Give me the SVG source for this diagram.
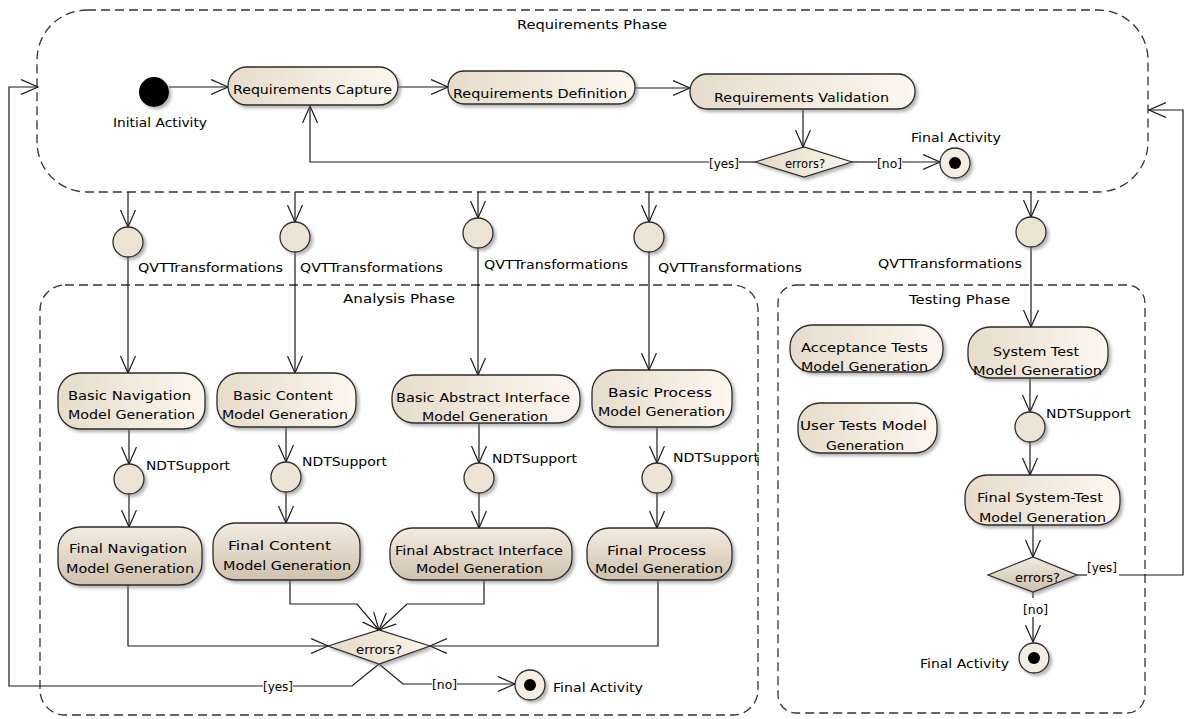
<svg xmlns="http://www.w3.org/2000/svg" width="1192" height="719" viewBox="0 0 1192 719">
<defs>
<linearGradient id="gB" x1="0" y1="0" x2="1" y2="0"><stop offset="0" stop-color="#e7dccb"/><stop offset="1" stop-color="#fcf7ef"/></linearGradient>
<linearGradient id="gF" x1="0" y1="0" x2="0" y2="1"><stop offset="0" stop-color="#f3ece2"/><stop offset="1" stop-color="#cfc1ad"/></linearGradient>
<linearGradient id="gD" x1="0" y1="0" x2="1" y2="0"><stop offset="0" stop-color="#e6dac8"/><stop offset="1" stop-color="#fbf4e9"/></linearGradient>
<linearGradient id="gDF" x1="0" y1="0" x2="0" y2="1"><stop offset="0" stop-color="#f3ece2"/><stop offset="1" stop-color="#cdbfab"/></linearGradient>
<filter id="sh" x="-20%" y="-20%" width="140%" height="150%"><feDropShadow dx="2.5" dy="2.5" stdDeviation="1.4" flood-color="#777" flood-opacity="0.55"/></filter>
<marker id="ah" markerUnits="userSpaceOnUse" markerWidth="20" markerHeight="18" refX="17" refY="8" orient="auto"><path d="M0,0.5 L17,8 L0,15.5" fill="none" stroke="#1a1a1a" stroke-width="1.2"/></marker>
</defs>
<style>
.cont{fill:none;stroke:#333;stroke-width:1.3;stroke-dasharray:9 5}
.act{stroke:#2a2a2a;stroke-width:1.3;filter:url(#sh)}
.b{fill:url(#gB)}
.f{fill:url(#gF)}
.pt{fill:#ece3d5;stroke:#2a2a2a;stroke-width:1.3;filter:url(#sh)}
.dm{fill:url(#gD);stroke:#2a2a2a;stroke-width:1.2;filter:url(#sh)}
.dmf{fill:url(#gDF);stroke:#2a2a2a;stroke-width:1.2;filter:url(#sh)}
.fa{fill:#f3ede3;stroke:#2a2a2a;stroke-width:1.3;filter:url(#sh)}
#connectors path{fill:none;stroke:#1a1a1a;stroke-width:1.2}
.arr{marker-end:url(#ah)}
text{font-family:"DejaVu Sans","Liberation Sans",sans-serif;font-size:13px;fill:#000;dominant-baseline:central}
</style>
<rect width="1192" height="719" fill="#fff"/>

<g id="requirements-phase">
<rect class="cont" x="37" y="10" width="1111" height="182" rx="50" ry="50"/>
<text x="517" y="24" textLength="150" lengthAdjust="spacingAndGlyphs">Requirements Phase</text>
</g>
<g id="analysis-phase">
<rect class="cont" x="40" y="285" width="718" height="430" rx="25" ry="25"/>
<text x="343" y="298" textLength="112" lengthAdjust="spacingAndGlyphs">Analysis Phase</text>
</g>
<g id="testing-phase">
<rect class="cont" x="778" y="285" width="367" height="428" rx="18" ry="18"/>
<text x="909" y="299" textLength="101" lengthAdjust="spacingAndGlyphs">Testing Phase</text>
</g>

<g id="connectors">
<path class="arr" d="M169,87 H228"/>
<path class="arr" d="M398,87 H448"/>
<path class="arr" d="M635,88 H690"/>
<path class="arr" d="M803,109 V147"/>
<path d="M755,162 H739"/>
<path class="arr" d="M709,162 H310 V106"/>
<path d="M852,162 H877"/>
<path class="arr" d="M902,162 H940"/>
<path class="arr" d="M263,686 H9 V87 H38"/>
<path d="M379,664 L352,686 H293"/>
<path d="M1077,575 H1087"/>
<path class="arr" d="M1119,575 H1183 V110 H1149"/>
<path class="arr" d="M128,192 V227"/>
<path class="arr" d="M128,257 V373"/>
<path class="arr" d="M295,192 V222"/>
<path class="arr" d="M295,252 V373"/>
<path class="arr" d="M478,192 V218"/>
<path class="arr" d="M478,248 V375"/>
<path class="arr" d="M649,192 V222"/>
<path class="arr" d="M649,252 V370"/>
<path class="arr" d="M1031,192 V217"/>
<path class="arr" d="M1031,247 V327"/>
<path class="arr" d="M129,429 V464"/>
<path class="arr" d="M129,494 V527"/>
<path class="arr" d="M286,427 V462"/>
<path class="arr" d="M286,492 V523"/>
<path class="arr" d="M479,423 V463"/>
<path class="arr" d="M479,493 V528"/>
<path class="arr" d="M657,427 V463"/>
<path class="arr" d="M657,493 V528"/>
<path class="arr" d="M1030,378 V412"/>
<path class="arr" d="M1030,442 V475"/>
<path class="arr" d="M1033,525 V557"/>
<path class="arr" d="M128,585 V646 H328"/>
<path class="arr" d="M290,580 V604 H357 L379,630"/>
<path class="arr" d="M484,580 V604 H407 L379,630"/>
<path class="arr" d="M658,580 V646 H430"/>
<path d="M379,664 L403,684 H432"/>
<path class="arr" d="M457,684 H515"/>
<path d="M1033,592 V598"/>
<path class="arr" d="M1033,617 V642"/>
<text x="709" y="163" textLength="30" lengthAdjust="spacingAndGlyphs">[yes]</text>
<text x="877" y="163" textLength="25" lengthAdjust="spacingAndGlyphs">[no]</text>
<text x="263" y="686" textLength="30" lengthAdjust="spacingAndGlyphs">[yes]</text>
<text x="432" y="684" textLength="25" lengthAdjust="spacingAndGlyphs">[no]</text>
<text x="1087" y="567" textLength="30" lengthAdjust="spacingAndGlyphs">[yes]</text>
<text x="1023" y="609" textLength="25" lengthAdjust="spacingAndGlyphs">[no]</text>
<text x="138" y="267" textLength="145" lengthAdjust="spacingAndGlyphs">QVTTransformations</text>
<text x="300" y="267" textLength="143" lengthAdjust="spacingAndGlyphs">QVTTransformations</text>
<text x="484" y="264" textLength="144" lengthAdjust="spacingAndGlyphs">QVTTransformations</text>
<text x="658" y="267" textLength="144" lengthAdjust="spacingAndGlyphs">QVTTransformations</text>
<text x="878" y="263" textLength="144" lengthAdjust="spacingAndGlyphs">QVTTransformations</text>
<text x="146" y="465" textLength="84" lengthAdjust="spacingAndGlyphs">NDTSupport</text>
<text x="302" y="461" textLength="85" lengthAdjust="spacingAndGlyphs">NDTSupport</text>
<text x="492" y="458" textLength="85" lengthAdjust="spacingAndGlyphs">NDTSupport</text>
<text x="673" y="457" textLength="86" lengthAdjust="spacingAndGlyphs">NDTSupport</text>
<text x="1046" y="413" textLength="85" lengthAdjust="spacingAndGlyphs">NDTSupport</text>
</g>

<g id="initial-activity">
<circle cx="154" cy="92" r="15" fill="#000" filter="url(#sh)"/>
<text x="113" y="122" textLength="94" lengthAdjust="spacingAndGlyphs">Initial Activity</text>
</g>
<g id="requirements-capture">
<rect class="act b" x="228" y="67" width="170" height="38" rx="19"/>
<text x="233" y="89" textLength="159" lengthAdjust="spacingAndGlyphs">Requirements Capture</text>
</g>
<g id="requirements-definition">
<rect class="act b" x="448" y="71" width="187" height="33" rx="16"/>
<text x="453" y="93" textLength="174" lengthAdjust="spacingAndGlyphs">Requirements Definition</text>
</g>
<g id="requirements-validation">
<rect class="act b" x="690" y="74" width="225" height="35" rx="17"/>
<text x="714" y="97" textLength="175" lengthAdjust="spacingAndGlyphs">Requirements Validation</text>
</g>
<g id="req-decision">
<polygon class="dm" points="755,162 804,147 852,162 804,177"/>
<text x="785" y="163" textLength="40" lengthAdjust="spacingAndGlyphs">errors?</text>
</g>
<g id="req-final">
<circle class="fa" cx="955" cy="163" r="15"/>
<circle cx="955" cy="163" r="6" fill="#000"/>
<text x="911" y="137" textLength="90" lengthAdjust="spacingAndGlyphs">Final Activity</text>
</g>

<g id="fork-1"><circle class="pt" cx="128" cy="242" r="15"/></g>
<g id="fork-2"><circle class="pt" cx="295" cy="237" r="15"/></g>
<g id="fork-3"><circle class="pt" cx="478" cy="233" r="15"/></g>
<g id="fork-4"><circle class="pt" cx="649" cy="237" r="15"/></g>
<g id="fork-5"><circle class="pt" cx="1031" cy="232" r="15"/></g>

<g id="basic-navigation">
<rect class="act b" x="58" y="373" width="147" height="56" rx="22"/>
<text x="68" y="395" textLength="123" lengthAdjust="spacingAndGlyphs">Basic Navigation</text>
<text x="68" y="414" textLength="127" lengthAdjust="spacingAndGlyphs">Model Generation</text>
</g>
<g id="basic-content">
<rect class="act b" x="217" y="373" width="139" height="54" rx="22"/>
<text x="233" y="395" textLength="100" lengthAdjust="spacingAndGlyphs">Basic Content</text>
<text x="222" y="414" textLength="126" lengthAdjust="spacingAndGlyphs">Model Generation</text>
</g>
<g id="basic-abstract">
<rect class="act b" x="392" y="375" width="188" height="48" rx="22"/>
<text x="396" y="397" textLength="174" lengthAdjust="spacingAndGlyphs">Basic Abstract Interface</text>
<text x="422" y="416" textLength="126" lengthAdjust="spacingAndGlyphs">Model Generation</text>
</g>
<g id="basic-process">
<rect class="act b" x="592" y="370" width="140" height="57" rx="22"/>
<text x="608" y="392" textLength="104" lengthAdjust="spacingAndGlyphs">Basic Process</text>
<text x="598" y="411" textLength="127" lengthAdjust="spacingAndGlyphs">Model Generation</text>
</g>

<g id="ndt-1"><circle class="pt" cx="129" cy="479" r="15"/></g>
<g id="ndt-2"><circle class="pt" cx="286" cy="477" r="15"/></g>
<g id="ndt-3"><circle class="pt" cx="479" cy="478" r="15"/></g>
<g id="ndt-4"><circle class="pt" cx="657" cy="478" r="15"/></g>

<g id="final-navigation">
<rect class="act f" x="58" y="527" width="144" height="58" rx="22"/>
<text x="69" y="548" textLength="118" lengthAdjust="spacingAndGlyphs">Final Navigation</text>
<text x="66" y="568" textLength="128" lengthAdjust="spacingAndGlyphs">Model Generation</text>
</g>
<g id="final-content">
<rect class="act f" x="213" y="523" width="147" height="57" rx="22"/>
<text x="228" y="545" textLength="103" lengthAdjust="spacingAndGlyphs">Final Content</text>
<text x="223" y="565" textLength="128" lengthAdjust="spacingAndGlyphs">Model Generation</text>
</g>
<g id="final-abstract">
<rect class="act f" x="390" y="528" width="182" height="52" rx="22"/>
<text x="395" y="550" textLength="168" lengthAdjust="spacingAndGlyphs">Final Abstract Interface</text>
<text x="416" y="568" textLength="127" lengthAdjust="spacingAndGlyphs">Model Generation</text>
</g>
<g id="final-process">
<rect class="act f" x="587" y="528" width="145" height="52" rx="22"/>
<text x="607" y="550" textLength="99" lengthAdjust="spacingAndGlyphs">Final Process</text>
<text x="595" y="568" textLength="128" lengthAdjust="spacingAndGlyphs">Model Generation</text>
</g>

<g id="analysis-decision">
<polygon class="dm" points="328,646 379,630 430,646 379,664"/>
<text x="356" y="649" textLength="46" lengthAdjust="spacingAndGlyphs">errors?</text>
</g>
<g id="analysis-final">
<circle class="fa" cx="530" cy="685" r="15"/>
<circle cx="530" cy="685" r="6" fill="#000"/>
<text x="553" y="687" textLength="90" lengthAdjust="spacingAndGlyphs">Final Activity</text>
</g>

<g id="acceptance-tests">
<rect class="act b" x="790" y="325" width="153" height="47" rx="22"/>
<text x="801" y="347" textLength="127" lengthAdjust="spacingAndGlyphs">Acceptance Tests</text>
<text x="801" y="366" textLength="127" lengthAdjust="spacingAndGlyphs">Model Generation</text>
</g>
<g id="system-test">
<rect class="act b" x="968" y="327" width="140" height="51" rx="22"/>
<text x="993" y="351" textLength="86" lengthAdjust="spacingAndGlyphs">System Test</text>
<text x="973" y="370" textLength="129" lengthAdjust="spacingAndGlyphs">Model Generation</text>
</g>
<g id="user-tests">
<rect class="act b" x="798" y="403" width="139" height="50" rx="22"/>
<text x="800" y="425" textLength="127" lengthAdjust="spacingAndGlyphs">User Tests Model</text>
<text x="826" y="445" textLength="78" lengthAdjust="spacingAndGlyphs">Generation</text>
</g>
<g id="ndt-5"><circle class="pt" cx="1030" cy="427" r="15"/></g>
<g id="final-system-test">
<rect class="act b" x="965" y="475" width="155" height="50" rx="22"/>
<text x="977" y="497" textLength="126" lengthAdjust="spacingAndGlyphs">Final System-Test</text>
<text x="979" y="517" textLength="127" lengthAdjust="spacingAndGlyphs">Model Generation</text>
</g>
<g id="testing-decision">
<polygon class="dmf" points="988,575 1033,557 1077,575 1033,592"/>
<text x="1015" y="577" textLength="45" lengthAdjust="spacingAndGlyphs">errors?</text>
</g>
<g id="testing-final">
<circle class="fa" cx="1034" cy="658" r="15"/>
<circle cx="1034" cy="658" r="6" fill="#000"/>
<text x="920" y="663" textLength="89" lengthAdjust="spacingAndGlyphs">Final Activity</text>
</g>
</svg>
